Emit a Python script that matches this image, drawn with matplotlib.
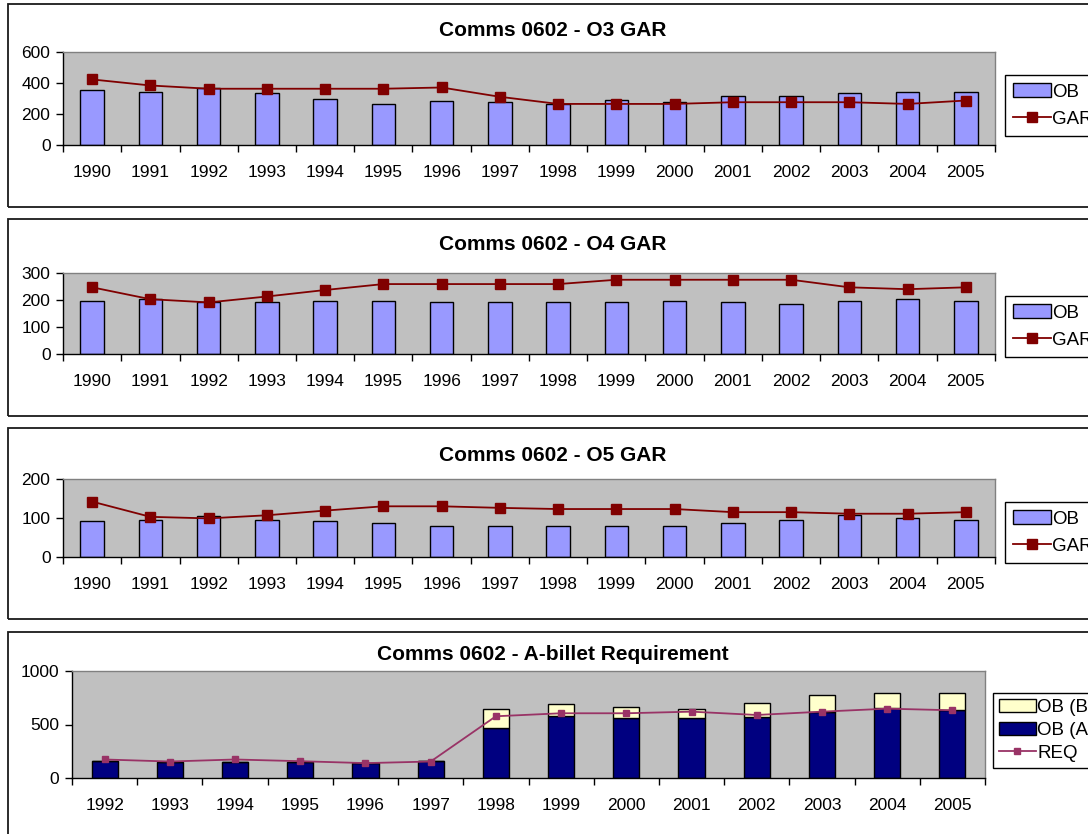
import matplotlib
matplotlib.use("Agg")
import matplotlib.pyplot as plt
from matplotlib.patches import Rectangle, Patch
from matplotlib.lines import Line2D
import numpy as np

plt.rcParams['font.family'] = ['Liberation Sans', 'DejaVu Sans']

# ---- data ----
years_gar = ['1990', '1991', '1992', '1993', '1994', '1995', '1996', '1997',
             '1998', '1999', '2000', '2001', '2002', '2003', '2004', '2005']

o3_ob = [354, 343, 365, 334, 296, 265, 287, 276, 265, 289, 276, 315, 315, 334, 343, 343]
o3_gar = [423, 384, 363, 363, 363, 363, 371, 311, 265, 265, 265, 276, 276, 276, 265, 287]

o4_ob = [197, 203, 191, 191, 197, 197, 191, 191, 191, 191, 197, 191, 185, 197, 203, 197]
o4_gar = [247, 203, 191, 213, 237, 259, 259, 259, 259, 275, 275, 275, 275, 247, 240, 247]

o5_ob = [92, 96, 104, 96, 92, 88, 80, 80, 80, 80, 80, 88, 96, 108, 100, 96]
o5_gar = [142, 103, 99, 107, 119, 130, 130, 126, 123, 123, 123, 115, 115, 111, 111, 115]

years_bil = ['1992', '1993', '1994', '1995', '1996', '1997', '1998',
             '1999', '2000', '2001', '2002', '2003', '2004', '2005']
ob_a = [157, 151, 145, 145, 142, 157, 469, 577, 559, 559, 574, 620, 651, 636]
ob_b = [0, 0, 0, 0, 0, 0, 179, 111, 101, 89, 127, 155, 139, 154]
req = [173, 154, 173, 157, 139, 154, 577, 605, 605, 620, 589, 620, 648, 633]

# ---- layout (pixels) ----
W, H = 1088, 834
fig = plt.figure(figsize=(W / 100, H / 100), dpi=100)
fig.patch.set_facecolor('white')

PLOT_BG = '#C0C0C0'
OB_COLOR = '#9999FF'
GAR_COLOR = '#800000'
A_COLOR = '#000080'
B_COLOR = '#FFFFCC'
REQ_COLOR = '#993366'
TICK_FS = 12.5
LEG_FS = 13.5
TITLE_FS = 15


def frame(y0, y1, x0=8, x1=1100):
    fig.add_artist(Rectangle((x0 / W, 1 - y1 / H), (x1 - x0) / W, (y1 - y0) / H,
                             transform=fig.transFigure, fill=False,
                             edgecolor='#1a1a1a', linewidth=1.3))


def make_axes(x0, x1, y0, y1):
    ax = fig.add_axes([x0 / W, 1 - y1 / H, (x1 - x0) / W, (y1 - y0) / H])
    ax.set_facecolor(PLOT_BG)
    for s in ('top', 'right'):
        ax.spines[s].set_color('#808080')
        ax.spines[s].set_linewidth(1.0)
    for s in ('left', 'bottom'):
        ax.spines[s].set_color('black')
        ax.spines[s].set_linewidth(1.0)
    return ax


def style_axes(ax, labels, ymax, ystep):
    n = len(labels)
    ax.set_xlim(-0.5, n - 0.5)
    ax.set_ylim(0, ymax)
    ax.set_yticks(np.arange(0, ymax + 1, ystep))
    ax.tick_params(axis='y', direction='out', length=5, width=1, pad=4,
                   labelsize=TICK_FS, colors='black')
    # category boundary ticks, labels centred on categories
    ax.set_xticks(np.arange(-0.5, n, 1.0))
    ax.set_xticklabels([])
    ax.set_xticks(np.arange(n), minor=True)
    ax.set_xticklabels(labels, minor=True)
    ax.tick_params(axis='x', which='major', direction='out', length=5, width=1)
    ax.tick_params(axis='x', which='minor', length=0, pad=14.5, labelsize=TICK_FS)


def gar_panel(y0, y1, py0, py1, title, ob, gar, ymax, ystep, ty):
    frame(y0, y1)
    ax = make_axes(63, 995, py0, py1)
    x = np.arange(len(years_gar))
    ax.bar(x, ob, width=0.4, color=OB_COLOR, edgecolor='black', linewidth=1.0, zorder=2)
    ax.plot(x, gar, color=GAR_COLOR, linewidth=1.3, marker='s', markersize=6.5,
            markerfacecolor=GAR_COLOR, markeredgecolor=GAR_COLOR, zorder=3)
    style_axes(ax, years_gar, ymax, ystep)
    fig.text(553 / W, 1 - ty / H, title, ha='center', va='center',
             fontsize=TITLE_FS, fontweight='bold')
    handles = [Patch(facecolor=OB_COLOR, edgecolor='black', linewidth=1.0),
               Line2D([], [], color=GAR_COLOR, linewidth=1.3, marker='s',
                      markersize=6.5, markerfacecolor=GAR_COLOR, markeredgecolor=GAR_COLOR)]
    leg = fig.legend(handles, ['OB', 'GAR'], loc='upper left',
                     bbox_to_anchor=(1005 / W, 1 - (py0 + 23) / H),
                     fontsize=LEG_FS, frameon=True, fancybox=False, framealpha=1,
                     edgecolor='black', borderpad=0.45, handlelength=2.0,
                     handleheight=0.75, handletextpad=0.05, labelspacing=0.5,
                     borderaxespad=0)
    leg.get_frame().set_linewidth(1.0)
    return ax


gar_panel(4, 207, 52, 145, 'Comms 0602 - O3 GAR', o3_ob, o3_gar, 600, 200, 31)
gar_panel(219, 416, 273, 354, 'Comms 0602 - O4 GAR', o4_ob, o4_gar, 300, 100, 244)
gar_panel(428, 619, 479, 557, 'Comms 0602 - O5 GAR', o5_ob, o5_gar, 200, 100, 455)

# ---- A-billet requirement panel ----
frame(632, 900)
ax4 = make_axes(72, 985, 671, 778)
xb = np.arange(len(years_bil))
ax4.bar(xb, ob_a, width=0.4, color=A_COLOR, edgecolor='black', linewidth=1.0, zorder=2)
ax4.bar(xb, ob_b, width=0.4, bottom=ob_a, color=B_COLOR, edgecolor='black',
        linewidth=1.0, zorder=2)
ax4.plot(xb, req, color=REQ_COLOR, linewidth=1.3, marker='s', markersize=5,
         markerfacecolor=REQ_COLOR, markeredgecolor=REQ_COLOR, zorder=3)
style_axes(ax4, years_bil, 1000, 500)
fig.text(553 / W, 1 - 654 / H, 'Comms 0602 - A-billet Requirement', ha='center',
         va='center', fontsize=TITLE_FS, fontweight='bold')
h4 = [Patch(facecolor=B_COLOR, edgecolor='black', linewidth=1.0),
      Patch(facecolor=A_COLOR, edgecolor='black', linewidth=1.0),
      Line2D([], [], color=REQ_COLOR, linewidth=1.3, marker='s', markersize=5,
             markerfacecolor=REQ_COLOR, markeredgecolor=REQ_COLOR)]
leg4 = fig.legend(h4, ['OB (B)', 'OB (A)', 'REQ'], loc='upper left',
                  bbox_to_anchor=(993 / W, 1 - 693 / H), fontsize=LEG_FS,
                  frameon=True, fancybox=False, framealpha=1, edgecolor='black',
                  borderpad=0.3, handlelength=2.0, handleheight=0.75,
                  handletextpad=0.05, labelspacing=0.3, borderaxespad=0)
leg4.get_frame().set_linewidth(1.0)

fig.savefig('out.png', dpi=100, facecolor='white')
